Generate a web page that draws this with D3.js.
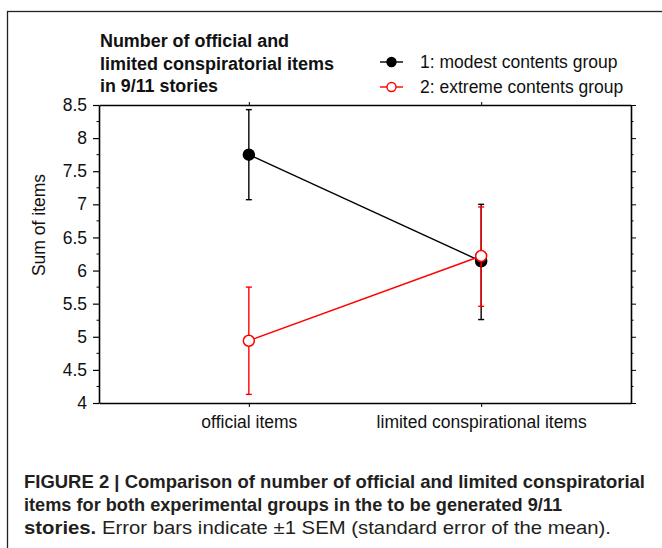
<!doctype html>
<html>
<head>
<meta charset="utf-8">
<script src="https://d3js.org/d3.v7.min.js"></script>
<style>
  body { margin: 0; background: #fff; }
  text { font-family: "Liberation Sans", Arial, sans-serif; }
</style>
</head>
<body>
<svg id="chart" width="662" height="548"></svg>
<script>
// data
var categories = ["official items", "limited conspirational items"];
var groups = ["1: modest contents group", "2: extreme contents group"];
var groupColors = ["#000000", "#ff0000"];
var groupFilled = [true, false];
var means = [[7.75, 6.14], [4.94, 6.22]];
var errLow = [[7.07, 5.26], [4.13, 5.46]];
var errHigh = [[8.43, 7.00], [5.75, 6.96]];
var yTicks = [4, 4.5, 5, 5.5, 6, 6.5, 7, 7.5, 8, 8.5];
var titleLines = ["Number of official and", "limited conspiratorial items", "in 9/11 stories"];
var titleWidths = [189, 234, 118];

(function() {
  var svg = d3.select("#chart");
  var fs = 17.5;

  // outer frame (runs off the right and bottom edge)
  svg.append("rect")
    .attr("x", 7.5).attr("y", 11.5).attr("width", 700).attr("height", 700)
    .attr("fill", "none").attr("stroke", "#222").attr("stroke-width", 1.3);

  var pLeft = 99, pRight = 631, pTop = 105, pBottom = 403;
  var x = d3.scalePoint().domain(categories).range([pLeft, pRight]).padding(0.645);
  var y = d3.scaleLinear().domain([4, 8.5]).range([pBottom, pTop]);
  var minor = d3.range(4.25, 8.5, 0.5);

  // axes
  var gl = svg.append("g").attr("transform", "translate(" + pLeft + ",0)")
    .call(d3.axisLeft(y).tickValues(yTicks).tickFormat(d3.format("")).tickSize(6).tickSizeOuter(0));
  gl.selectAll(".tick line").attr("stroke-width", 1.2);
  gl.selectAll("text").attr("font-size", fs).attr("x", -12).attr("fill", "#111");
  gl.append("g").selectAll("line").data(minor).join("line")
    .attr("x1", -2.5).attr("x2", 0).attr("y1", y).attr("y2", y).attr("stroke", "#000");

  var gr = svg.append("g").attr("transform", "translate(" + pRight + ",0)")
    .call(d3.axisRight(y).tickValues(yTicks).tickFormat("").tickSize(5).tickSizeOuter(0));
  gr.append("g").selectAll("line").data(minor).join("line")
    .attr("x1", 0).attr("x2", 2.5).attr("y1", y).attr("y2", y).attr("stroke", "#000");

  var gb = svg.append("g").attr("transform", "translate(0," + pBottom + ")")
    .call(d3.axisBottom(x).tickSize(4).tickSizeOuter(0));
  gb.selectAll("text").attr("font-size", fs).attr("dy", "1.05em").attr("fill", "#111");

  svg.append("g").attr("transform", "translate(0," + pTop + ")")
    .call(d3.axisTop(x).tickFormat("").tickSize(3).tickSizeOuter(0));

  svg.selectAll(".domain").attr("stroke-width", 1.6);

  // y label
  svg.append("text")
    .attr("transform", "translate(45,225) rotate(-90)")
    .attr("text-anchor", "middle").attr("font-size", fs).attr("fill", "#111")
    .text("Sum of items");

  // series
  groups.forEach(function(g, gi) {
    var col = groupColors[gi];
    var pts = categories.map(function(c, ci) {
      return { c: c, m: means[gi][ci], lo: errLow[gi][ci], hi: errHigh[gi][ci] };
    });
    var sg = svg.append("g");
    sg.append("path")
      .attr("d", d3.line().x(function(d) { return x(d.c); }).y(function(d) { return y(d.m); })(pts))
      .attr("fill", "none").attr("stroke", col).attr("stroke-width", 1.4);
    var eb = sg.selectAll(".err").data(pts).join("g");
    eb.append("line")
      .attr("x1", function(d) { return x(d.c); }).attr("x2", function(d) { return x(d.c); })
      .attr("y1", function(d) { return y(d.lo); }).attr("y2", function(d) { return y(d.hi); })
      .attr("stroke", col).attr("stroke-width", 1.4);
    ["lo", "hi"].forEach(function(k) {
      eb.append("line")
        .attr("x1", function(d) { return x(d.c) - 3; }).attr("x2", function(d) { return x(d.c) + 3; })
        .attr("y1", function(d) { return y(d[k]); }).attr("y2", function(d) { return y(d[k]); })
        .attr("stroke", col).attr("stroke-width", 1.4);
    });
    sg.selectAll("circle").data(pts).join("circle")
      .attr("cx", function(d) { return x(d.c); }).attr("cy", function(d) { return y(d.m); })
      .attr("r", 5.5)
      .attr("fill", groupFilled[gi] ? col : "#fff")
      .attr("stroke", col).attr("stroke-width", 1.5);
  });

  // title
  svg.append("g").selectAll("text").data(titleLines).join("text")
    .attr("x", 100).attr("y", function(d, i) { return 47 + i * 22.5; })
    .attr("font-size", fs).attr("font-weight", "bold").attr("fill", "#111")
    .attr("textLength", function(d, i) { return titleWidths[i]; })
    .attr("lengthAdjust", "spacingAndGlyphs")
    .text(function(d) { return d; });

  // legend
  var lg = svg.append("g").selectAll("g").data(groups).join("g")
    .attr("transform", function(d, i) { return "translate(380," + (62 + i * 25) + ")"; });
  lg.append("line").attr("x1", 0).attr("x2", 23)
    .attr("stroke", function(d, i) { return groupColors[i]; }).attr("stroke-width", 1.4);
  lg.append("circle").attr("cx", 11.5).attr("r", 4.5)
    .attr("fill", function(d, i) { return groupFilled[i] ? groupColors[i] : "#fff"; })
    .attr("stroke", function(d, i) { return groupColors[i]; }).attr("stroke-width", 1.4);
  lg.append("text").attr("x", 40).attr("dy", "0.35em")
    .attr("font-size", fs).attr("fill", "#111")
    .text(function(d) { return d; });

  // caption
  var cap = svg.append("g").attr("fill", "#231f20").attr("font-size", 18.5);
  cap.append("text").attr("x", 24).attr("y", 488).attr("font-weight", "bold")
    .attr("textLength", 621).attr("lengthAdjust", "spacingAndGlyphs")
    .text("FIGURE 2 | Comparison of number of official and limited conspiratorial");
  cap.append("text").attr("x", 24).attr("y", 511).attr("font-weight", "bold")
    .attr("textLength", 538).attr("lengthAdjust", "spacingAndGlyphs")
    .text("items for both experimental groups in the to be generated 9/11");
  var l3 = cap.append("text").attr("x", 24).attr("y", 534);
  l3.append("tspan").attr("font-weight", "bold").text("stories.");
  l3.append("tspan").text(" Error bars indicate \u00b11 SEM (standard error of the mean).");
  l3.attr("textLength", 587).attr("lengthAdjust", "spacingAndGlyphs");
})();
</script>
</body>
</html>
